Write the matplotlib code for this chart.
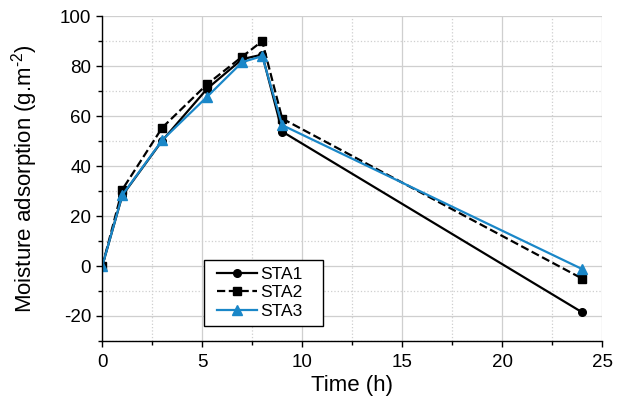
import numpy as np
import matplotlib
matplotlib.use('Agg')
import matplotlib.pyplot as plt
from matplotlib.ticker import MultipleLocator
from matplotlib.patches import Rectangle

# Data
time = [0, 1, 3, 5.25, 7, 8, 9, 24]
sta1 = [0, 28.2, 50.2, 71.0, 82.8, 84.6, 53.8, -18.5]
sta2 = [0, 30.6, 55.4, 72.8, 83.8, 90.0, 59.0, -5.0]
sta3 = [0, 28.4, 50.4, 67.8, 81.6, 84.0, 56.4, -1.2]

plt.rcParams['font.family'] = ['Liberation Sans', 'DejaVu Sans']
plt.rcParams['mathtext.fontset'] = 'custom'
plt.rcParams['mathtext.rm'] = 'Liberation Sans'
plt.rcParams['axes.unicode_minus'] = False

fig = plt.figure(figsize=(6.2, 4.04), dpi=100)
ax = fig.add_axes([0.165, 0.156, 0.806, 0.804])

ax.plot(time, sta1, color='black', linestyle='-', linewidth=1.6, marker='o', markersize=5.5, label='STA1')
ax.plot(time, sta2, color='black', linestyle='--', linewidth=1.6, marker='s', markersize=5.5, label='STA2')
ax.plot(time, sta3, color='#1a87c8', linestyle='-', linewidth=1.6, marker='^', markersize=6.5, label='STA3')

ax.set_xlim(0, 25)
ax.set_ylim(-30, 100)
ax.xaxis.set_major_locator(MultipleLocator(5))
ax.xaxis.set_minor_locator(MultipleLocator(2.5))
ax.yaxis.set_major_locator(MultipleLocator(20))
ax.yaxis.set_minor_locator(MultipleLocator(10))

ax.grid(True, which='major', color='#cfcfcf', linestyle='-', linewidth=0.9)
ax.grid(True, which='minor', color='#cfcfcf', linestyle=':', linewidth=0.9)
ax.set_axisbelow(True)

for side in ['top', 'right']:
    ax.spines[side].set_visible(False)
for side in ['left', 'bottom']:
    ax.spines[side].set_linewidth(1.0)

ax.tick_params(which='major', direction='out', length=4.5, width=1.0, labelsize=13.5)
ax.tick_params(axis='x', which='major', pad=5)
ax.tick_params(which='minor', direction='out', length=3, width=1.0)

ax.set_xlabel('Time (h)', fontsize=16, labelpad=3)
ax.set_ylabel('Moisture adsorption (g.m$^{\\mathregular{\u20102}}$)', fontsize=16, labelpad=14)

# legend frame drawn separately so the box can be wider than its contents
frame = Rectangle((0.204, 0.046), 0.238, 0.203, transform=ax.transAxes,
                  facecolor='white', edgecolor='black', linewidth=1.0, zorder=4.5)
ax.add_patch(frame)
leg = ax.legend(loc='center left', bbox_to_anchor=(0.229, 0.148),
                fontsize=12.5, frameon=False, handlelength=2.3,
                borderpad=0, labelspacing=0.2, handletextpad=0.2, borderaxespad=0)
leg.set_zorder(5)

fig.savefig('out.png', dpi=100)
